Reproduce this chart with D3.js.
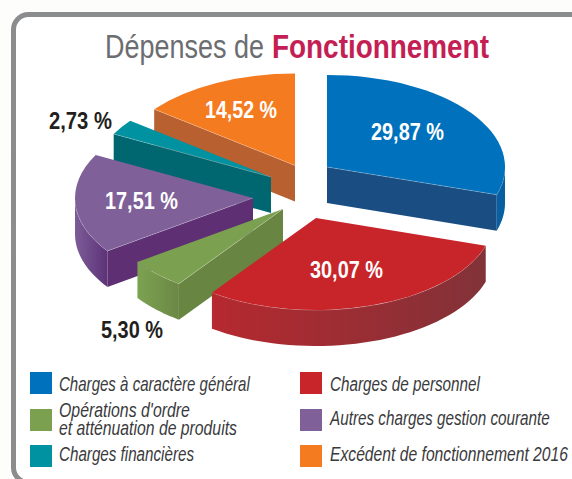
<!DOCTYPE html>
<html><head><meta charset="utf-8">
<script src="https://cdn.jsdelivr.net/npm/d3@7"></script>
<style>html,body{margin:0;padding:0;background:#fdfdfb;overflow:hidden}svg{display:block}
text{font-family:"Liberation Sans",sans-serif}</style></head>
<body><svg id="c" width="572" height="479"></svg>
<script>
const categories=["Charges à caractère général","Charges de personnel","Opérations d'ordre et atténuation de produits","Autres charges gestion courante","Charges financières","Excédent de fonctionnement 2016"];
const values=[29.87,30.07,5.30,17.51,2.73,14.52];
const valueLabels=["29,87 %","30,07 %","5,30 %","17,51 %","2,73 %","14,52 %"];
const topColors=["#0071bc","#c8252b","#7aa050","#7f6099","#0092a0","#f57b20"];
const faceColors=["#1a4e82","#8b3036","#688542","#5e2f73","#006670","#b86030"];
const rimFrom=["#0a5fa3","#b5292f","#7ca251","#7c5d98","#006670","#b86030"];
const rimTo=["#04609f","#813238","#6b8845","#5d3278","#006670","#b86030"];
const labelColors=["#fff","#fff","#231f20","#fff","#231f20","#fff"];
// layout
const apex=[[327,167],[316,218],[283,209],[253,198],[271,177],[295,165.5]];
const labelAt=[[371,140],[310,278],[101,338],[105,209],[49,129],[205,118]];
const labelW=[73,73,62,73,63,72];
const drawOrder=[5,4,3,0,2,1];
const R=178,K=0.517,D=36;
const legendRows=[[0,1],[2,3],[4,5]];
const swatchY=[372,409,445];
const textY=[391,425,461];
const legendX=[30,300];
const legendW=[191,150,178,220,135,238];

const svg=d3.select("#c");
const defs=svg.append("defs");
svg.append("rect").attr("x",13.5).attr("y",14.5).attr("width",575).attr("height",468).attr("rx",15)
  .attr("fill","#fff").attr("stroke","#8a8c8e").attr("stroke-width",5);

// squeeze a text horizontally to the reference's width (no narrow font is installed)
const fit=(sel,x,y,w)=>{
  const n=sel.node().getComputedTextLength();
  return sel.attr("transform",`translate(${x},${y}) scale(${w/n},1)`);
};
fit(svg.append("text").attr("font-size",34).attr("fill","#6b6d70").text("Dépenses de"),105,58,159);
fit(svg.append("text").attr("font-size",34).attr("fill","#c41f55").attr("font-weight","bold").text("Fonctionnement"),272,58,217);

const arcs=d3.pie().sort(null).value(d=>d).startAngle(0).endAngle(2*Math.PI)(values);
const pt=(a,z=0)=>[R*Math.sin(a),-R*K*Math.cos(a)+z];
const line=d3.line();
const arcGen=d3.arc().innerRadius(0).outerRadius(R);

drawOrder.forEach(i=>{
  const s=arcs[i],[ax,ay]=apex[i];
  const g=svg.append("g").attr("transform",`translate(${ax},${ay})`);
  const face=a=>{
    const p=pt(a),q=pt(a,D);
    g.append("path").attr("d",line([[0,0],p,q,[0,D]])+"Z").attr("fill",faceColors[i]);
  };
  if(Math.sin(s.startAngle)<-1e-6) face(s.startAngle);
  if(Math.sin(s.endAngle)>1e-6) face(s.endAngle);
  const lo=Math.max(s.startAngle,Math.PI/2),hi=Math.min(s.endAngle,3*Math.PI/2);
  if(hi>lo){
    const as=d3.range(0,41).map(t=>lo+(hi-lo)*t/40);
    const xs=as.map(a=>pt(a)[0]);
    const id="rim"+i;
    const gr=defs.append("linearGradient").attr("id",id).attr("gradientUnits","userSpaceOnUse")
      .attr("x1",d3.min(xs)).attr("x2",d3.max(xs)).attr("y1",0).attr("y2",0);
    gr.append("stop").attr("offset",0).attr("stop-color",rimFrom[i]);
    gr.append("stop").attr("offset",1).attr("stop-color",rimTo[i]);
    const pts=as.map(a=>pt(a)).concat(as.slice().reverse().map(a=>pt(a,D)));
    g.append("path").attr("d",line(pts)+"Z").attr("fill",`url(#${id})`);
    g.append("path").attr("d",line(as.map(a=>pt(a)))).attr("fill","none")
      .attr("stroke","rgba(255,255,255,.35)").attr("stroke-width",.7);
  }
  g.append("path").attr("transform",`scale(1,${K})`).attr("d",arcGen(s)).attr("fill",topColors[i]);
  [[s.startAngle,-1],[s.endAngle,1]].forEach(([a,sg])=>{
    if(Math.sin(a)*sg>1e-6) g.append("path").attr("d",line([[0,0],pt(a)])).attr("fill","none")
      .attr("stroke","rgba(255,255,255,.35)").attr("stroke-width",.7);
  });
});

valueLabels.forEach((d,i)=>{
  fit(svg.append("text").attr("font-size",24).attr("font-weight","bold").attr("fill",labelColors[i]).text(d),
    labelAt[i][0],labelAt[i][1],labelW[i]);
});

const leg=svg.append("g");
legendRows.forEach((row,r)=>row.forEach((i,c)=>{
  leg.append("rect").attr("x",legendX[c]).attr("y",swatchY[r]).attr("width",22).attr("height",22).attr("fill",topColors[i]);
  const add=(str,y,w)=>fit(leg.append("text").attr("font-style","italic").attr("font-size",20).attr("fill","#3a3a3c").text(str),
     legendX[c]+29+(c?1:0),y,w);
  if(i===2){
    add("Opérations d'ordre",417,131);
    add("et atténuation de produits",435,178);
  } else add(categories[i],textY[r],legendW[i]);
}));
</script></body></html>
